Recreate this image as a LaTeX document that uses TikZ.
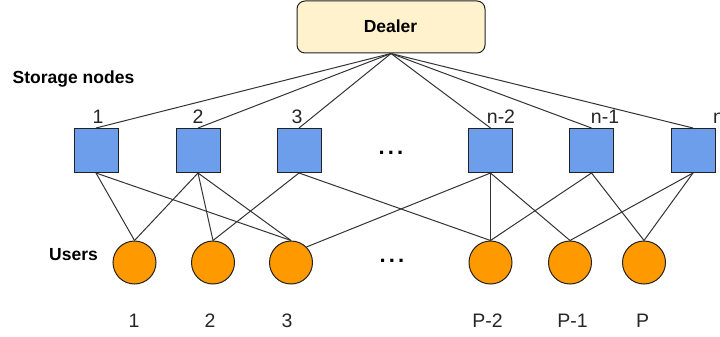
\documentclass[tikz,border=0pt]{standalone}
\usepackage{fontspec}
\setmainfont{Liberation Sans}
\definecolor{dealerfill}{HTML}{FFF2CC}
\definecolor{sqfill}{HTML}{6D9EEB}
\definecolor{userfill}{HTML}{FF9900}
\definecolor{edgecol}{HTML}{333333}
\definecolor{bordercol}{HTML}{222222}
\tikzset{
  dealerbox/.style={draw=bordercol, line width=1pt, fill=dealerfill, rounded corners=8pt,
    minimum width=188pt, minimum height=52pt, inner sep=0pt},
  storebox/.style={draw=bordercol, line width=1pt, fill=sqfill, minimum size=44pt, inner sep=0pt},
  userdot/.style={circle, draw=bordercol, line width=1pt, fill=userfill, minimum size=43pt, inner sep=0pt},
  conn/.style={draw=edgecol, line width=1pt},
  title/.style={font=\fontsize{17.5}{20}\selectfont\bfseries, anchor=base, inner sep=0pt},
  numlab/.style={font=\fontsize{19.5}{22}\selectfont, anchor=base, inner sep=0pt, text=black!85},
  ellip/.style={font=\fontsize{22}{24}\selectfont\bfseries, anchor=base, inner sep=0pt}
}
\newcommand{\mydots}{.\hspace{3.2pt}.\hspace{3.2pt}.}
\begin{document}
\begin{tikzpicture}[x=1pt,y=-1pt]
\useasboundingbox (0,0) rectangle (720,337);

% dealer
\node[dealerbox] (D) at (391,27) {};
\node[title] (Dt) at (390.5,33) {Dealer};

% storage nodes
\node[storebox] (S1) at (96,150.5) {};
\node[storebox] (S2) at (198,150.5) {};
\node[storebox] (S3) at (299,150.5) {};
\node[storebox] (Sn2) at (490.5,150.5) {};
\node[storebox] (Sn1) at (591.5,150.5) {};
\node[storebox] (Sn) at (693,150.5) {};

% users
\node[userdot] (U1) at (134.5,262.5) {};
\node[userdot] (U2) at (213,262.5) {};
\node[userdot] (U3) at (291,262.5) {};
\node[userdot] (UP2) at (490.5,262.5) {};
\node[userdot] (UP1) at (570,262.5) {};
\node[userdot] (UP) at (644,262.5) {};

% dealer connectors
\foreach \s in {S1,S2,S3,Sn2,Sn1,Sn}
  \draw[conn] (D.south) -- (\s.north);

% storage-user connectors
\draw[conn] (S1.south) -- (U1.north);
\draw[conn] (S1.south) -- (U3.north);
\draw[conn] (S2.south) -- (U1.north);
\draw[conn] (S2.south) -- (U2.north);
\draw[conn] (S2.south) -- (U3.north);
\draw[conn] (S3.south) -- (U2.north);
\draw[conn] (S3.south) -- (UP2.north);
\draw[conn] (U3.north east) -- (Sn2.south);
\draw[conn] (Sn2.south) -- (UP2.north);
\draw[conn] (Sn2.south) -- (UP1.north);
\draw[conn] (Sn1.south) -- (UP2.north);
\draw[conn] (Sn1.south) -- (UP.north);
\draw[conn] (Sn.south) -- (UP1.north);
\draw[conn] (Sn.south) -- (UP.north);

% titles
\node[title] (tS) at (73.5,84) {Storage nodes};
\node[title] (tU) at (73.5,260) {Users};

% ellipses
\node[ellip] (e1) at (391,154.5) {\mydots};
\node[ellip] (e2) at (392,262.5) {\mydots};

% storage labels
\node[numlab] (l1) at (98,123) {1};
\node[numlab] (l2) at (198,123) {2};
\node[numlab] (l3) at (297,123) {3};
\node[numlab] (ln2) at (501,123) {n-2};
\node[numlab] (ln1) at (605,123) {n-1};
\node[numlab] (ln) at (718.5,123) {n};

% user labels
\node[numlab] (b1) at (134,327) {1};
\node[numlab] (b2) at (210,327) {2};
\node[numlab] (b3) at (287,327) {3};
\node[numlab] (bP2) at (487.5,327) {P-2};
\node[numlab] (bP1) at (572.5,327) {P-1};
\node[numlab] (bP) at (642.5,327) {P};
\end{tikzpicture}
\end{document}
